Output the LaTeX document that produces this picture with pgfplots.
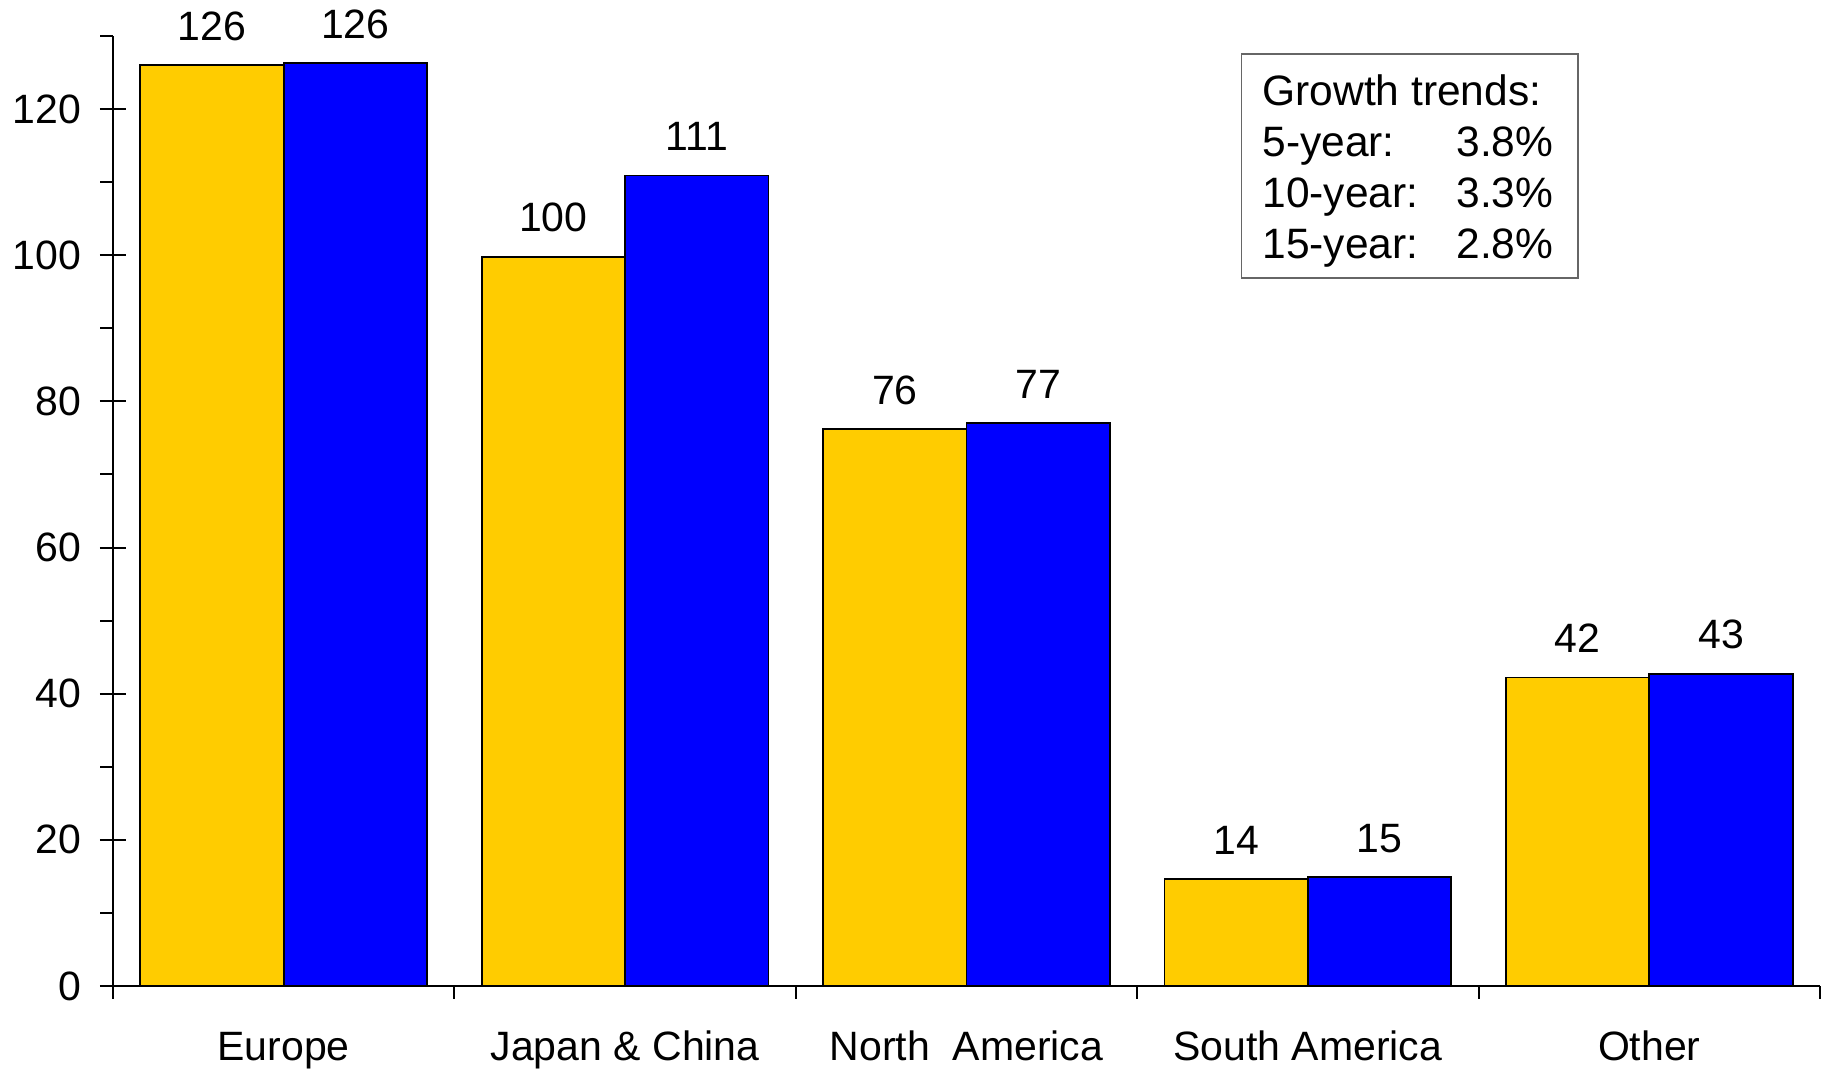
\documentclass[border=0pt]{standalone}
\usepackage{pgfplots}
\usepackage{pgfplotstable}
\pgfplotsset{compat=1.18}
\usepackage{fontspec}
\setmainfont{Liberation Sans}
\newcommand\myfont{\fontsize{16.4}{19.6}\selectfont}
\newcommand\legfont{\fontsize{17}{20.4}\selectfont}
\definecolor{cyellow}{HTML}{FFCC00}
\definecolor{cblue}{HTML}{0000FF}
\pgfplotstableread{
x y label
0 126.0 126
1 99.8 100
2 76.2 76
3 14.6 14
4 42.2 42
}\yellowdata
\pgfplotstableread{
x y label
0 126.3 126
1 110.9 111
2 77.0 77
3 14.9 15
4 42.7 43
}\bluedata
\begin{document}
\myfont
\begin{tikzpicture}
\begin{axis}[
  at={(0,0)}, anchor=south west, scale only axis,
  width=682.8pt, height=380pt,
  xmin=-0.5, xmax=4.5, ymin=0, ymax=130,
  axis lines*=left,
  axis line style={line width=0.8pt},
  every tick/.style={black, line width=0.8pt},
  /pgf/number format/assume math mode=true,
  tick label style={font=\myfont},
  xtick={-0.5,0.5,1.5,2.5,3.5,4.5},
  xticklabels={},
  xtick align=outside,
  major tick length=5pt,
  ytick={0,10,...,130},
  yticklabels={},
  ytick align=outside,
  extra y ticks={0,20,40,60,80,100,120},
  extra y tick labels={0,20,40,60,80,100,120},
  extra y tick style={ytick align=center, major tick length=10.4pt},
  extra x ticks={0,1,2,3,4},
  extra x tick labels={Europe,Japan \& China,North\ \ America,South America,Other},
  extra x tick style={major tick length=0pt},
  yticklabel style={anchor=east, inner sep=0pt, xshift=-7.3pt},
  xticklabel style={anchor=base, inner sep=0pt, yshift=-30pt},
  clip=false,
  point meta=explicit symbolic,
  nodes near coords,
  nodes near coords style={font=\myfont, anchor=base, inner sep=0pt, yshift=10pt},
]
\addplot[ybar, bar width=0.42, bar shift=-0.21, fill=cyellow, draw=black, line width=0.7pt,
  every node near coord/.append style={xshift=-28.68pt}]
  table[x=x, y=y, meta=label] {\yellowdata};
\addplot[ybar, bar width=0.42, bar shift=0.21, fill=cblue, draw=black, line width=0.7pt,
  every node near coord/.append style={xshift=28.68pt}]
  table[x=x, y=y, meta=label] {\bluedata};
\end{axis}
\draw[black!60, line width=0.5pt] (451.5pt,283.2pt) rectangle (586pt,372.8pt);
\begin{scope}[every node/.style={anchor=base west, inner sep=0pt, font=\legfont}]
\node at (459.6pt,352pt) {Growth trends:};
\node at (459.6pt,331.7pt) {5-year:};
\node at (459.6pt,311.3pt) {10-year:};
\node at (459.6pt,290.8pt) {15-year:};
\node at (537.2pt,331.7pt) {3.8\%};
\node at (537.2pt,311.3pt) {3.3\%};
\node at (537.2pt,290.8pt) {2.8\%};
\end{scope}
\pgfresetboundingbox
\path[use as bounding box] (-45.2pt,-33.2pt) rectangle (687.6pt,394.4pt);
\end{tikzpicture}
\end{document}
